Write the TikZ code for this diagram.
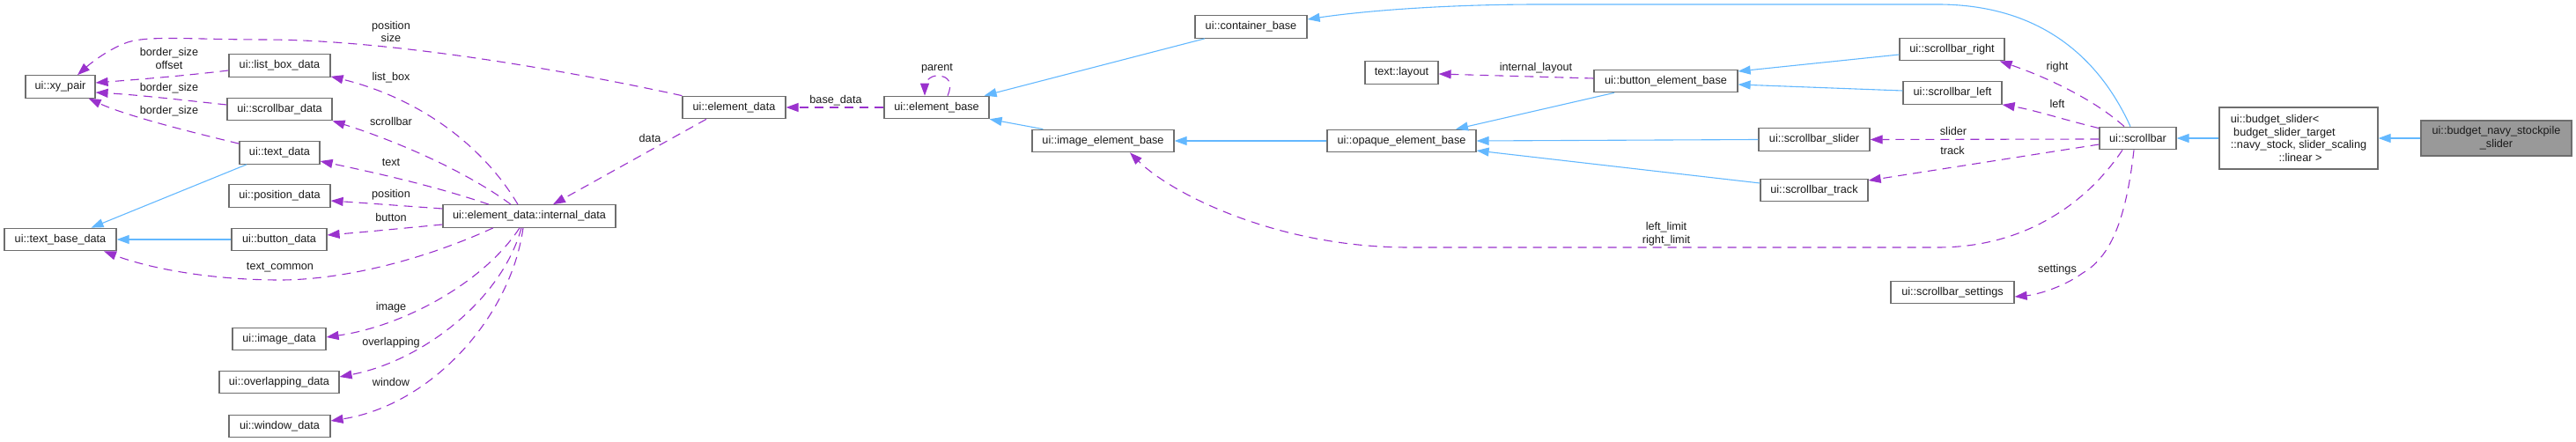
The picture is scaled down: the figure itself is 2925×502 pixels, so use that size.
\documentclass[tikz,border=0pt]{standalone}
\usepackage{fontspec}
\setmainfont{Liberation Sans}
\usetikzlibrary{arrows.meta}
\definecolor{inhblue}{HTML}{63B8FF}
\definecolor{usepurple}{HTML}{9A32CD}
\definecolor{boxgray}{HTML}{6E6E6E}
\definecolor{rootfill}{HTML}{999999}
\definecolor{txt}{HTML}{1A1A1A}
\begin{document}
\begin{tikzpicture}[x=1pt,y=-1pt,
  every node/.style={font=\fontsize{12.67pt}{14.7pt}\selectfont, text=txt, inner sep=0pt},
  box/.style={draw=boxgray, line width=1.2pt, fill=white, minimum height=25.5pt},
  lbl/.style={align=center},
  inhedge/.style={draw=inhblue, line width=1.1pt, -{Triangle[length=14pt,width=10pt]}},
  useedge/.style={draw=usepurple, line width=1.1pt, dash pattern=on 10pt off 7pt, -{Triangle[length=14pt,width=10pt]}}]
\useasboundingbox (0,0) rectangle (2925,502);

% nodes
\node[box,minimum width=79pt] (xy) at (68.5,98.5) {ui::xy\_pair};
\node[box,minimum width=127pt] (textbase) at (68.5,272) {ui::text\_base\_data};
\node[box,minimum width=115pt] (listbox) at (317.5,74.5) {ui::list\_box\_data};
\node[box,minimum width=119pt] (sbdata) at (317.5,124) {ui::scrollbar\_data};
\node[box,minimum width=91pt] (textdata) at (317.5,173.5) {ui::text\_data};
\node[box,minimum width=115pt] (posdata) at (317.5,222.5) {ui::position\_data};
\node[box,minimum width=108pt] (buttondata) at (317,272) {ui::button\_data};
\node[box,minimum width=106pt] (imagedata) at (317,385) {ui::image\_data};
\node[box,minimum width=136pt] (overlap) at (317,434) {ui::overlapping\_data};
\node[box,minimum width=115pt] (window) at (317.5,484) {ui::window\_data};
\node[box,minimum width=196pt] (internal) at (601,245.5) {ui::element\_data::internal\_data};
\node[box,minimum width=117pt] (elemdata) at (833.5,122) {ui::element\_data};
\node[box,minimum width=119pt] (elembase) at (1063.5,122) {ui::element\_base};
\node[box,minimum width=127pt] (container) at (1420.5,30.5) {ui::container\_base};
\node[box,minimum width=161pt] (imgelem) at (1252.5,160) {ui::image\_element\_base};
\node[box,minimum width=83pt] (layout) at (1591.5,82.5) {text::layout};
\node[box,minimum width=163pt] (btnelem) at (1891.5,92) {ui::button\_element\_base};
\node[box,minimum width=169pt] (opaque) at (1591.5,160) {ui::opaque\_element\_base};
\node[box,minimum width=119pt] (sright) at (2216.5,56) {ui::scrollbar\_right};
\node[box,minimum width=112pt] (sleft) at (2217,105.5) {ui::scrollbar\_left};
\node[box,minimum width=126pt] (sslider) at (2060,158.5) {ui::scrollbar\_slider};
\node[box,minimum width=122pt] (strack) at (2060,216) {ui::scrollbar\_track};
\node[box,minimum width=87pt] (scrollbar) at (2427.5,157) {ui::scrollbar};
\node[box,minimum width=140pt] (ssettings) at (2217,332) {ui::scrollbar\_settings};
\node[box,minimum width=180pt,minimum height=70pt,align=left] (budget) at (2610,157)
  {ui::budget\_slider<\\\hspace*{3.3pt}budget\_slider\_target\\::navy\_stock, slider\_scaling\\\hspace*{54.6pt}::linear >};
\node[box,fill=rootfill,minimum width=171pt,minimum height=40pt,align=center] (navy) at (2834.5,157)
  {ui::budget\_navy\_stockpile\\\_slider};

% labels
\node[lbl] (lposize) at (444,36) {position\\size};
\node[lbl] (lbsoff) at (192,66.5) {border\_size\\offset};
\node[lbl] (lbs2) at (192,100) {border\_size};
\node[lbl] (lbs3) at (192,126) {border\_size};
\node[lbl] (llist) at (444,88) {list\_box};
\node[lbl] (lsb) at (444,138) {scrollbar};
\node[lbl] (ltext) at (444,184) {text};
\node[lbl] (lpos) at (444,221) {position};
\node[lbl] (lbtn) at (444,247) {button};
\node[lbl] (ltc) at (318,304) {text\_common};
\node[lbl] (limg) at (444,349) {image};
\node[lbl] (lovl) at (444,389) {overlapping};
\node[lbl] (lwin) at (444,434) {window};
\node[lbl] (ldata) at (738,157) {data};
\node[lbl] (lbase) at (949,114) {base\_data};
\node[lbl] (lparent) at (1064,78) {parent};
\node[lbl] (lil) at (1744,77) {internal\_layout};
\node[lbl] (llim) at (1892,265.5) {left\_limit\\right\_limit};
\node[lbl] (lright) at (2336,76) {right};
\node[lbl] (lleft) at (2336,118) {left};
\node[lbl] (lslider) at (2218,149) {slider};
\node[lbl] (ltrack) at (2217,171) {track};
\node[lbl] (lset) at (2336,306) {settings};

% usage edges
\draw[useedge] (elemdata.north west) .. controls (620,75) and (430,45) .. (300,45) .. controls (220,45) and (170,40) .. (145,48) .. controls (125,55) and (105,70) .. ([xshift=19.5pt]xy.north);
\draw[useedge] ([yshift=-5.5pt]listbox.west) .. controls (210,86) and (160,90) .. ([yshift=4.5pt]xy.east);
\draw[useedge] ([yshift=5pt]sbdata.west) .. controls (210,114) and (160,108) .. ([yshift=-6.5pt]xy.east);
\draw[useedge] ([yshift=-3pt]textdata.north west) .. controls (200,146) and (140,130) .. ([xshift=-8pt]xy.south east);
\draw[useedge] ([xshift=-13pt]internal.north) .. controls (545,160) and (470,110) .. ([yshift=1pt]listbox.south east);
\draw[useedge] ([xshift=-21pt]internal.north) .. controls (530,195) and (450,160) .. (sbdata.south east);
\draw[useedge] ([xshift=-46pt]internal.north) .. controls (490,210) and (420,195) .. ([yshift=-9.5pt]textdata.east);
\draw[useedge] ([yshift=8.5pt]internal.west) .. controls (460,234) and (420,231) .. ([yshift=-5.5pt]posdata.east);
\draw[useedge] ([yshift=-9.5pt]internal.west) .. controls (460,259) and (420,263) .. ([yshift=5pt]buttondata.east);
\draw[useedge] ([xshift=-41pt]internal.south) .. controls (470,300) and (380,318) .. (318,318) .. controls (240,318) and (170,305) .. ([xshift=49.5pt]textbase.south);
\draw[useedge] ([xshift=-11pt]internal.south) .. controls (550,320) and (460,370) .. ([yshift=2pt]imagedata.east);
\draw[useedge] ([xshift=-9pt]internal.south) .. controls (570,340) and (480,410) .. ([yshift=6pt]overlap.east);
\draw[useedge] ([xshift=-7pt]internal.south) .. controls (580,360) and (490,460) .. ([yshift=6pt]window.east);
\draw[useedge] ([xshift=-31.5pt]elemdata.south) -- ([xshift=27pt]internal.north);
\draw[useedge] (elembase.west) -- (elemdata.east);
\draw[useedge] ([xshift=12.5pt]elembase.north) .. controls (1082,95) and (1078,86) .. (1064,86) .. controls (1055,86) and (1050,95) .. ([xshift=-13.5pt]elembase.north);
\draw[useedge] ([yshift=3pt]btnelem.west) -- ([yshift=-1.5pt]layout.east);
\draw[useedge] ([xshift=-15.5pt]scrollbar.north) .. controls (2380,115) and (2330,90) .. ([xshift=-6pt]sright.south east);
\draw[useedge] ([yshift=-2pt]scrollbar.north west) .. controls (2340,135) and (2310,125) .. (sleft.south east);
\draw[useedge] ([yshift=-1pt]scrollbar.west) -- (sslider.east);
\draw[useedge] ([yshift=-7pt]scrollbar.west) -- ([yshift=11pt]strack.east);
\draw[useedge] ([xshift=-17.5pt]scrollbar.south) .. controls (2370,230) and (2300,281) .. (2200,281) -- (1600,281) .. controls (1450,281) and (1330,220) .. ([xshift=30.5pt]imgelem.south);
\draw[useedge] ([xshift=-4.5pt]scrollbar.south) .. controls (2415,240) and (2400,290) .. (2365,310) .. controls (2340,328) and (2310,335) .. ([yshift=-5pt]ssettings.east);

% inheritance edges
\draw[inhedge] ([xshift=-37.5pt]textdata.south) -- ([xshift=35pt]textbase.north);
\draw[inhedge] (buttondata.west) -- (textbase.east);
\draw[inhedge] ([xshift=-52.5pt]container.south) -- ([xshift=-6pt]elembase.north east);
\draw[inhedge] ([xshift=13pt]imgelem.north west) -- (elembase.south east);
\draw[inhedge] (opaque.west) -- (imgelem.east);
\draw[inhedge] ([xshift=-58.5pt]btnelem.south) -- ([xshift=61.5pt]opaque.north);
\draw[inhedge] (sslider.west) -- (opaque.east);
\draw[inhedge] ([yshift=8pt]strack.west) -- ([yshift=-11pt]opaque.east);
\draw[inhedge] ([yshift=-6pt]sright.west) -- ([yshift=11pt]btnelem.east);
\draw[inhedge] ([yshift=2.5pt]sleft.west) -- ([yshift=-4pt]btnelem.east);
\draw[inhedge] ([xshift=-8.5pt]scrollbar.north) .. controls (2390,80) and (2330,5) .. (2200,5) -- (1750,5) .. controls (1620,5) and (1530,15) .. ([yshift=8.5pt]container.east);
\draw[inhedge] (budget.west) -- (scrollbar.east);
\draw[inhedge] (navy.west) -- (budget.east);
\end{tikzpicture}
\end{document}
